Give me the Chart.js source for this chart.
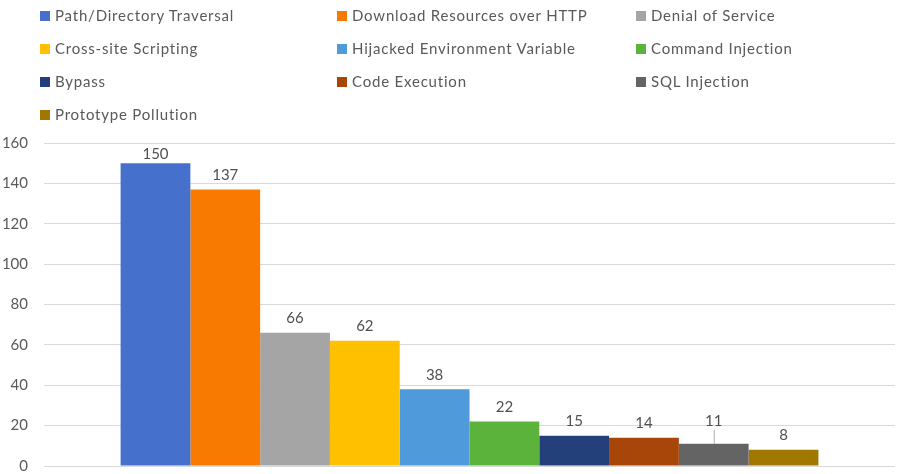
<!DOCTYPE html>
<html>
<head>
<meta charset="utf-8">
<script src="https://cdn.jsdelivr.net/npm/chart.js@4"></script>
<style>
  body { margin: 0; background: #fff; overflow: hidden; }
  #wrap { position: relative; width: 900px; height: 474px; }
  #graph-1 { display: block; }
  #legend { position: absolute; left: 0; top: 0; width: 900px; height: 130px;
            font-family: Lato, sans-serif; font-size: 15px; letter-spacing: 0.8px; color: #595959; }
  .item { position: absolute; white-space: nowrap; line-height: 18px; }
  .item span.box { display: inline-block; width: 10px; height: 10px; margin-right: 5px; vertical-align: 0px; }
</style>
</head>
<body>
<div id="wrap">
  <canvas id="graph-1" width="900" height="474"></canvas>
  <div id="legend"></div>
</div>
<script>
// data
const categories = [''];
const seriesNames = [
  'Path/Directory Traversal', 'Download Resources over HTTP', 'Denial of Service',
  'Cross-site Scripting', 'Hijacked Environment Variable', 'Command Injection',
  'Bypass', 'Code Execution', 'SQL Injection', 'Prototype Pollution'
];
const seriesValues = [150, 137, 66, 62, 38, 22, 15, 14, 11, 8];
const yTicks = [0, 20, 40, 60, 80, 100, 120, 140, 160];

// styles
const colors = ['#4570CC', '#F97A00', '#A5A5A5', '#FFC000', '#4E9ADB',
                '#5BB33B', '#24407A', '#A8460A', '#646464', '#A07800'];
const textColor = '#595959';
const font = 'Lato, sans-serif';

// value labels above the bars (11 gets a little leader line like the original)
const valueLabels = {
  id: 'valueLabels',
  afterDatasetsDraw(chart) {
    const c = chart.ctx;
    c.save();
    c.font = '15px ' + font;
    c.fillStyle = '#505050';
    c.textAlign = 'center';
    c.textBaseline = 'bottom';
    chart.data.datasets.forEach((ds, i) => {
      const bar = chart.getDatasetMeta(i).data[0];
      const v = ds.data[0];
      let y = Math.max(bar.y - 7, chart.chartArea.top + 19);
      if (v === 11) {
        y = bar.y - 15;
        c.strokeStyle = '#b0b0b0';
        c.lineWidth = 1;
        c.beginPath();
        c.moveTo(bar.x + 0.5, y + 1);
        c.lineTo(bar.x + 0.5, bar.y);
        c.stroke();
      }
      c.fillText(String(v), bar.x, y);
    });
    c.restore();
  }
};

const ctx = document.getElementById('graph-1').getContext('2d');
const chart = new Chart(ctx, {
  type: 'bar',
  data: {
    labels: categories,
    datasets: seriesNames.map((name, i) => ({
      label: name,
      data: [seriesValues[i]],
      backgroundColor: colors[i],
      borderWidth: 0,
      categoryPercentage: 0.82,
      barPercentage: 1.0
    }))
  },
  options: {
    responsive: false,
    animation: false,
    layout: { autoPadding: false, padding: { top: 143, right: 5, bottom: 8, left: 0 } },
    plugins: {
      legend: { display: false },
      tooltip: { enabled: false }
    },
    scales: {
      x: { display: false },
      y: {
        min: yTicks[0],
        max: yTicks[yTicks.length - 1],
        afterBuildTicks: s => { s.ticks = yTicks.map(v => ({ value: v })); },
        afterFit: s => { s.width = 44; s.paddingTop = 0; s.paddingBottom = 0; },
        border: { display: false },
        grid: { color: '#d9d9d9', drawTicks: false },
        ticks: { color: textColor, font: { family: font, size: 15 }, padding: 16 }
      }
    }
  },
  plugins: [valueLabels]
});

// legend laid out in three columns like the source
const legend = document.getElementById('legend');
const colX = [40, 337, 636];
seriesNames.forEach((name, i) => {
  const el = document.createElement('div');
  el.className = 'item';
  el.style.left = colX[i % 3] + 'px';
  el.style.top = (6 + Math.floor(i / 3) * 33) + 'px';
  el.innerHTML = `<span class="box" style="background:${colors[i]}"></span>${name}`;
  legend.appendChild(el);
});
</script>
</body>
</html>
